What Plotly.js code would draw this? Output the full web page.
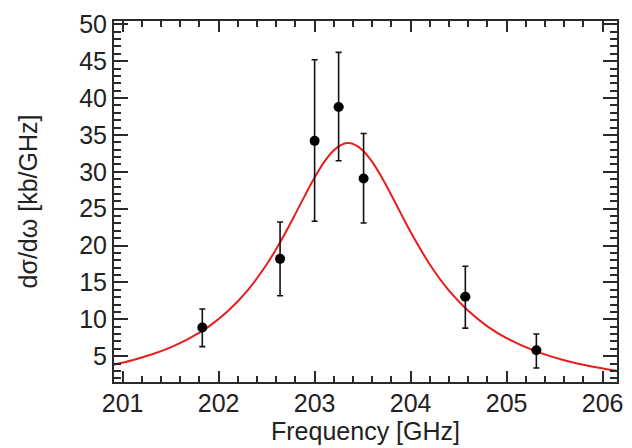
<!DOCTYPE html>
<html>
<head>
<meta charset="utf-8">
<script src="https://cdn.plot.ly/plotly-3.0.1.min.js"></script>
<style>html,body{margin:0;padding:0;background:#fff;}#plot{width:632px;height:448px;}</style>
</head>
<body>
<div id="plot"></div>
<script>
// Measured data points
const freq = [201.83, 202.64, 203.00, 203.25, 203.51, 204.57, 205.31];
const xsec = [8.9, 18.2, 34.2, 38.8, 29.1, 13.05, 5.8];
const errPlus = [2.5, 5.0, 11.0, 7.4, 6.1, 4.15, 2.2];
const errMinus = [2.6, 5.0, 10.9, 7.3, 6.05, 4.25, 2.4];
const freqErr = [0, 0, 0, 0.05, 0, 0.05, 0];

// Fit curve
const fitX = [200.9, 201.1, 201.3, 201.5, 201.7, 201.9, 202.1, 202.3, 202.5, 202.6, 202.7, 202.8, 202.9, 203.0, 203.1, 203.2, 203.3, 203.35, 203.4, 203.5, 203.6, 203.7, 203.8, 203.9, 204.0, 204.2, 204.4, 204.6, 204.8, 205.0, 205.3, 205.6, 205.9, 206.15];
const fitY = [3.83, 4.45, 5.22, 6.20, 7.44, 9.05, 11.15, 13.89, 17.44, 19.54, 21.84, 24.30, 26.81, 29.22, 31.34, 32.93, 33.79, 33.9, 33.79, 32.93, 31.34, 29.22, 26.81, 24.30, 21.84, 17.44, 13.89, 11.15, 9.05, 7.44, 5.68, 4.45, 3.57, 3.02];

// Tick settings
const xTickStart = 201, xTickStep = 1, xMinorStep = 0.2;
const yTickStart = 5, yTickStep = 5, yMinorStep = 1;

const axisColor = '#2a2a2a';
const fontFam = 'Arial, "Liberation Sans", Helvetica, sans-serif';

const traces = [
  {
    x: fitX, y: fitY, type: 'scatter', mode: 'lines',
    line: {color: 'rgb(232,30,28)', width: 2, shape: 'spline'},
    hoverinfo: 'skip'
  },
  {
    x: freq, y: xsec, type: 'scatter', mode: 'markers',
    marker: {color: '#000', size: 10},
    error_y: {type: 'data', symmetric: false, array: errPlus, arrayminus: errMinus, color: '#111', thickness: 1.6, width: 3},
    error_x: {type: 'data', array: freqErr, color: '#111', thickness: 2.5, width: 0}
  }
];

const layout = {
  width: 632, height: 448,
  margin: {l: 114, r: 15, t: 21, b: 66},
  paper_bgcolor: '#fff', plot_bgcolor: '#fff',
  showlegend: false,
  font: {family: fontFam, color: '#222', size: 25},
  xaxis: {
    range: [200.91, 206.15],
    tickmode: 'linear', tick0: xTickStart, dtick: xTickStep,
    ticks: 'inside', ticklen: 11, tickwidth: 2, tickcolor: axisColor,
    minor: {dtick: xMinorStep, ticks: 'inside', ticklen: 6, tickwidth: 1.5, tickcolor: axisColor},
    showline: true, linecolor: axisColor, linewidth: 2, mirror: 'allticks',
    showgrid: false, zeroline: false,
    tickfont: {size: 25, family: fontFam, color: '#222'},
    ticklabelstandoff: -2,
    title: {text: 'Frequency [GHz]', font: {size: 25, family: fontFam, color: '#222'}, standoff: 6}
  },
  yaxis: {
    range: [1.5, 50.45],
    tickmode: 'linear', tick0: yTickStart, dtick: yTickStep,
    ticks: 'inside', ticklen: 14, tickwidth: 2, tickcolor: axisColor,
    minor: {dtick: yMinorStep, ticks: 'inside', ticklen: 7, tickwidth: 1.5, tickcolor: axisColor},
    showline: true, linecolor: axisColor, linewidth: 2, mirror: 'allticks',
    showgrid: false, zeroline: false,
    tickfont: {size: 25, family: fontFam, color: '#222'},
    title: {text: 'dσ/dω [kb/GHz]', font: {size: 25, family: fontFam, color: '#222'}, standoff: 34}
  }
};

Plotly.newPlot('plot', traces, layout, {displayModeBar: false});
</script>
</body>
</html>
